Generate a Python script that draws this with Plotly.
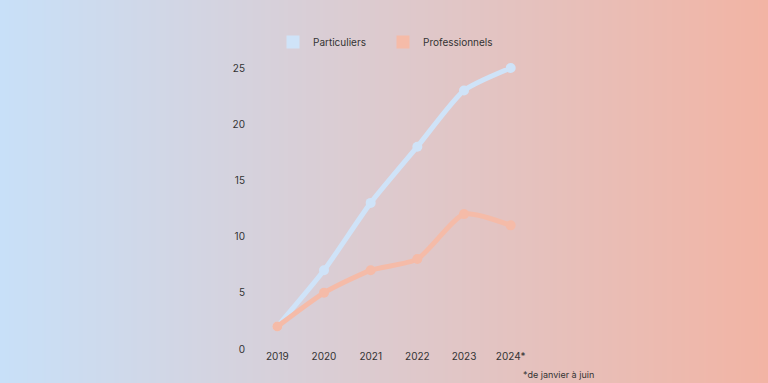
import plotly.graph_objects as go
import zlib, struct, base64

years = ["2019", "2020", "2021", "2022", "2023", "2024*"]
particuliers = [2, 7, 13, 18, 23, 25]
professionnels = [2, 5, 7, 8, 12, 11]
y_ticks = [0, 5, 10, 15, 20, 25]
series_names = ["Particuliers", "Professionnels"]

W, H = 768, 383
L, R, T, B = 254, 234, 68, 34
pw, ph = W - L - R, H - T - B

def gradient_png(width, c1, c2):
    row = b"\x00"
    for i in range(width):
        t = i / (width - 1)
        row += bytes(int(round(c1[k] + (c2[k] - c1[k]) * t)) for k in range(3))
    def chunk(tag, data):
        c = struct.pack(">I", len(data)) + tag + data
        return c + struct.pack(">I", zlib.crc32(tag + data) & 0xffffffff)
    png = b"\x89PNG\r\n\x1a\n"
    png += chunk(b"IHDR", struct.pack(">IIBBBBB", width, 1, 8, 2, 0, 0, 0))
    png += chunk(b"IDAT", zlib.compress(row))
    png += chunk(b"IEND", b"")
    return "data:image/png;base64," + base64.b64encode(png).decode()

bg = gradient_png(W, (200, 224, 248), (242, 180, 164))

blue = "#cfe3f8"
salmon = "#f5bba8"

fig = go.Figure()
for name, vals, col in [(series_names[0], particuliers, blue), (series_names[1], professionnels, salmon)]:
    fig.add_trace(go.Scatter(x=years, y=vals, name=name, mode="lines+markers", showlegend=False,
                             line=dict(color=col, width=5, shape="spline", smoothing=0.6),
                             marker=dict(color=col, size=10), cliponaxis=False))
for name, col in [(series_names[0], blue), (series_names[1], salmon)]:
    fig.add_trace(go.Scatter(x=[None], y=[None], name=name, mode="markers",
                             marker=dict(color=col, size=13, symbol="square"), showlegend=True))

fig.update_layout(
    width=W, height=H,
    margin=dict(l=L, r=R, t=T, b=B),
    paper_bgcolor="rgba(0,0,0,0)",
    plot_bgcolor="rgba(0,0,0,0)",
    font=dict(family="Inter", size=10, color="#333333"),
    showlegend=True,
    legend=dict(orientation="h", x=(273 - L) / pw, xanchor="left", y=1.0 + 26 / ph, yanchor="middle",
                font=dict(size=10), bgcolor="rgba(0,0,0,0)", borderwidth=0,
                entrywidth=65, entrywidthmode="pixels", traceorder="normal"),
    images=[dict(source=bg, xref="paper", yref="paper", x=-L / pw, y=1 + T / ph,
                 sizex=W / pw, sizey=H / ph, sizing="stretch", layer="below",
                 xanchor="left", yanchor="top")],
    xaxis=dict(type="category", range=[-0.5, 5.5], showgrid=False, zeroline=False,
               showline=False, ticks="", tickfont=dict(size=10)),
    yaxis=dict(range=[0, 25], tickvals=y_ticks, showgrid=False, zeroline=False,
               showline=False, ticks="outside", ticklen=6, tickcolor="rgba(0,0,0,0)",
               tickfont=dict(size=10)),
    annotations=[dict(text="*de janvier à juin", xref="paper", yref="paper",
                      x=(521 - L) / pw, y=-(374 - T - ph) / ph, xanchor="left",
                      yanchor="middle", showarrow=False, font=dict(size=9, color="#333333"))],
)

fig.write_html("out.html", config={"displayModeBar": False},
               post_script="document.body.style.margin='0';")
